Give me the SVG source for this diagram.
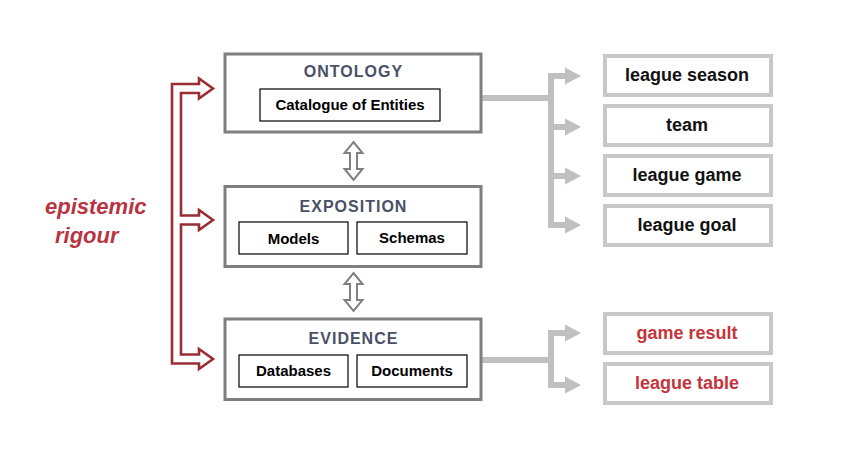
<svg xmlns="http://www.w3.org/2000/svg" width="847" height="462" viewBox="0 0 847 462">
<style>
.main{fill:#fff;stroke:#7f7f7f;stroke-width:3}
.inner{fill:#fff;stroke:#000;stroke-width:1.2}
.ent{fill:#fff;stroke:#c8c8c8;stroke-width:4}
.title{font-family:"Liberation Sans",Arial,sans-serif;font-weight:bold;font-size:16px;fill:#4a5066;text-anchor:middle;letter-spacing:1px}
.lbl{font-family:"Liberation Sans",Arial,sans-serif;font-weight:bold;font-size:15px;fill:#000;text-anchor:middle}
.etxt{font-family:"Liberation Sans",Arial,sans-serif;font-weight:bold;font-size:18px;fill:#111;text-anchor:middle}
.red{fill:#c4343c}
.conn{fill:none;stroke:#c0c0c0;stroke-width:6}
.head{fill:#c0c0c0}
.dbl{fill:#fff;stroke:#808080;stroke-width:2;stroke-linejoin:miter}
.epi{font-family:"Liberation Sans",Arial,sans-serif;font-weight:bold;font-style:italic;font-size:22px;fill:#b83442}
</style>
<rect width="847" height="462" fill="#fff"/>

<g id="connectors">
  <polygon points="172,84 199,84 199,78.5 213,88.5 199,98.5 199,93 181,93 181,215.5 199,215.5 199,210 213,220 199,230 199,224.5 181,224.5 181,354.5 199,354.5 199,349 213,359 199,369 199,363.5 172,363.5" fill="#fff" stroke="#9b2d35" stroke-width="2.6" stroke-linejoin="miter"/>
  <polygon class="dbl" points="353.5,142 362.5,153 357,153 357,169 362.5,169 353.5,180 344.5,169 350,169 350,153 344.5,153"/>
  <polygon class="dbl" points="353.5,273 362.5,284 357,284 357,300 362.5,300 353.5,311 344.5,300 350,300 350,284 344.5,284"/>
  <path class="conn" d="M482,98 H551 M551,73 V228 M551,76 H566 M551,127 H566 M551,176 H566 M551,225 H566"/>
  <polygon class="head" points="565,67.5 581,76 565,84.5"/>
  <polygon class="head" points="565,118.5 581,127 565,135.5"/>
  <polygon class="head" points="565,167.5 581,176 565,184.5"/>
  <polygon class="head" points="565,216.5 581,225 565,233.5"/>
  <path class="conn" d="M482,360 H551 M551,330 V388 M551,333 H566 M551,385 H566"/>
  <polygon class="head" points="565,324.5 581,333 565,341.5"/>
  <polygon class="head" points="565,376.5 581,385 565,393.5"/>
</g>

<g id="epistemic-rigour">
  <text class="epi" x="45" y="214">epistemic</text>
  <text class="epi" x="55" y="243">rigour</text>
</g>

<g id="ontology">
  <rect class="main" x="225" y="54" width="256" height="78"/>
  <text class="title" x="353.5" y="77">ONTOLOGY</text>
  <rect class="inner" x="260" y="89" width="180" height="32"/>
  <text class="lbl" x="350" y="110">Catalogue of Entities</text>
</g>

<g id="exposition">
  <rect class="main" x="225" y="186.5" width="256" height="80"/>
  <text class="title" x="353.5" y="212">EXPOSITION</text>
  <rect class="inner" x="239" y="222" width="109" height="32"/>
  <text class="lbl" x="293.5" y="243.5">Models</text>
  <rect class="inner" x="357" y="222" width="110" height="32"/>
  <text class="lbl" x="412" y="242.5">Schemas</text>
</g>

<g id="evidence">
  <rect class="main" x="225" y="319" width="256" height="80.5"/>
  <text class="title" x="353.5" y="343.5">EVIDENCE</text>
  <rect class="inner" x="239" y="355" width="109" height="32"/>
  <text class="lbl" x="293.5" y="376">Databases</text>
  <rect class="inner" x="357" y="355" width="110" height="32"/>
  <text class="lbl" x="412" y="376">Documents</text>
</g>

<g id="league-season">
  <rect class="ent" x="605" y="56" width="166" height="39"/>
  <text class="etxt" x="687" y="81">league season</text>
</g>
<g id="team">
  <rect class="ent" x="605" y="106" width="166" height="39"/>
  <text class="etxt" x="687" y="131">team</text>
</g>
<g id="league-game">
  <rect class="ent" x="605" y="156" width="166" height="39"/>
  <text class="etxt" x="687" y="181">league game</text>
</g>
<g id="league-goal">
  <rect class="ent" x="605" y="206" width="166" height="39"/>
  <text class="etxt" x="687" y="231">league goal</text>
</g>
<g id="game-result">
  <rect class="ent" x="605" y="314" width="166" height="39"/>
  <text class="etxt red" x="687" y="339">game result</text>
</g>
<g id="league-table">
  <rect class="ent" x="605" y="364" width="166" height="39"/>
  <text class="etxt red" x="687" y="389">league table</text>
</g>
</svg>
